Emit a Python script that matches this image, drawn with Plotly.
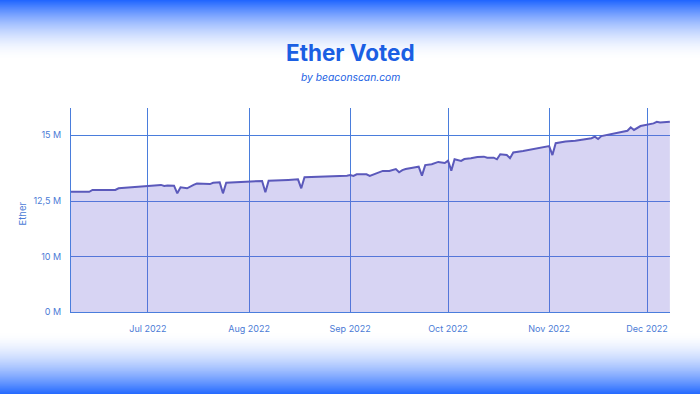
import numpy as np
import plotly.graph_objects as go

# ---------------- data ----------------
dates = [
    "2022-06-07", "2022-06-13", "2022-06-14", "2022-06-21", "2022-06-22",
    "2022-07-01", "2022-07-03", "2022-07-05", "2022-07-06", "2022-07-07",
    "2022-07-09", "2022-07-10", "2022-07-11", "2022-07-13", "2022-07-15",
    "2022-07-16", "2022-07-20", "2022-07-21", "2022-07-23", "2022-07-24",
    "2022-07-25", "2022-08-01", "2022-08-05", "2022-08-06", "2022-08-07",
    "2022-08-13", "2022-08-16", "2022-08-17", "2022-08-18", "2022-08-31",
    "2022-09-01", "2022-09-02", "2022-09-03", "2022-09-06", "2022-09-07",
    "2022-09-11", "2022-09-13", "2022-09-15", "2022-09-16", "2022-09-17",
    "2022-09-18", "2022-09-21", "2022-09-22", "2022-09-23", "2022-09-24",
    "2022-09-26", "2022-09-28", "2022-09-30", "2022-10-01", "2022-10-02",
    "2022-10-03", "2022-10-05", "2022-10-06", "2022-10-08", "2022-10-10",
    "2022-10-12", "2022-10-13", "2022-10-15", "2022-10-16", "2022-10-17",
    "2022-10-19", "2022-10-20", "2022-10-21", "2022-10-24", "2022-10-27",
    "2022-10-30", "2022-11-01", "2022-11-02", "2022-11-03", "2022-11-06",
    "2022-11-09", "2022-11-12", "2022-11-14", "2022-11-15", "2022-11-16",
    "2022-11-17", "2022-11-20", "2022-11-22", "2022-11-24", "2022-11-25",
    "2022-11-26", "2022-11-27", "2022-11-29", "2022-12-01", "2022-12-03",
    "2022-12-04", "2022-12-05", "2022-12-08",
]
ether_m = [
    12.85, 12.85, 12.92, 12.92, 12.98,
    13.07, 13.08, 13.11, 13.07, 13.09,
    13.08, 12.79, 13.02, 12.98, 13.11,
    13.16, 13.14, 13.19, 13.21, 12.79,
    13.19, 13.23, 13.26, 12.83, 13.27,
    13.30, 13.32, 12.98, 13.40, 13.46,
    13.48, 13.45, 13.51, 13.51, 13.45,
    13.64, 13.64, 13.71, 13.59, 13.67,
    13.71, 13.78, 13.80, 13.46, 13.86,
    13.89, 13.98, 13.94, 14.03, 13.65,
    14.08, 14.02, 14.09, 14.12, 14.17,
    14.18, 14.14, 14.14, 14.08, 14.27,
    14.24, 14.12, 14.34, 14.39, 14.46,
    14.52, 14.58, 14.24, 14.69, 14.75,
    14.78, 14.84, 14.88, 14.94, 14.85,
    14.96, 15.03, 15.09, 15.12, 15.16,
    15.29, 15.19, 15.34, 15.38, 15.44,
    15.50, 15.47, 15.50,
]
y_tick_values = [0, 10, 12.5, 15]
y_tick_text = ["0 M", "10 M", "12,5 M", "15 M"]
x_tick_dates = ["2022-07-01", "2022-08-01", "2022-09-01",
                "2022-10-01", "2022-11-01", "2022-12-01"]
x_tick_text = ["Jul 2022", "Aug 2022", "Sep 2022",
               "Oct 2022", "Nov 2022", "Dec 2022"]

# ---------------- style ----------------
# the original chart uses a non-linear value scale; reproduce it piecewise
SCALE_IN = [0, 10, 12.5, 15, 20]
SCALE_OUT = [0, 55.3, 111, 177, 309]


def to_axis(v):
    return np.interp(np.asarray(v, dtype=float), SCALE_IN, SCALE_OUT)


W, H = 700, 394
ML, MR, MT, MB = 71, 30, 108, 82
PLOT_H = H - MT - MB
FONT = "Inter, Roboto, 'Open Sans', sans-serif"
BLUE_TXT = "#1b5fe3"
TICK_COL = "#4b7bd6"
GRID_COL = "#4a7ddc"
LINE_COL = "#5b59bb"

fig = go.Figure()
fig.add_trace(go.Scatter(
    x=dates,
    y=to_axis(ether_m),
    customdata=ether_m,
    mode="lines",
    line=dict(color=LINE_COL, width=2),
    fill="tozeroy",
    fillcolor="rgba(112,100,212,0.28)",
    hovertemplate="%{x|%b %d, %Y}<br>%{customdata:.2f} M<extra></extra>",
    showlegend=False,
))

# gradient background bands (top and bottom)
shapes = []


def px_to_paper(p):
    return (H - MB - p) / PLOT_H


TOP_END = 60
for i in range(TOP_END):
    t = (i + 0.5) / TOP_END
    a = (1 - t) ** 1.8
    shapes.append(dict(type="rect", xref="paper", yref="paper",
                       x0=-0.2, x1=1.1, y0=px_to_paper(i + 1), y1=px_to_paper(i),
                       fillcolor=f"rgba(30,100,255,{a:.3f})",
                       line=dict(width=0), layer="below"))
BOT_START = 332
for i in range(BOT_START, H):
    t = (i + 0.5 - BOT_START) / (H - BOT_START)
    a = t ** 1.7
    shapes.append(dict(type="rect", xref="paper", yref="paper",
                       x0=-0.2, x1=1.1, y0=px_to_paper(i + 1), y1=px_to_paper(i),
                       fillcolor=f"rgba(35,105,255,{a:.3f})",
                       line=dict(width=0), layer="below"))

fig.update_layout(
    width=W, height=H,
    margin=dict(l=ML, r=MR, t=MT, b=MB, pad=0),
    paper_bgcolor="white",
    plot_bgcolor="rgba(0,0,0,0)",
    font=dict(family=FONT, color=TICK_COL, size=9),
    shapes=shapes,
    annotations=[
        dict(text="<b>Ether Voted</b>", xref="paper", yref="paper",
             x=(W / 2 - ML) / (W - ML - MR), y=px_to_paper(52),
             showarrow=False, xanchor="center", yanchor="middle",
             font=dict(size=22.5, color=BLUE_TXT, family=FONT)),
        dict(text="<i>by beaconscan.com</i>", xref="paper", yref="paper",
             x=(W / 2 - ML) / (W - ML - MR), y=px_to_paper(77),
             showarrow=False, xanchor="center", yanchor="middle",
             font=dict(size=10.3, color=BLUE_TXT, family=FONT)),
        dict(text="Ether", xref="paper", yref="paper",
             x=(21.5 - ML) / (W - ML - MR), y=px_to_paper(214),
             showarrow=False, xanchor="center", yanchor="middle",
             textangle=-90,
             font=dict(size=9.5, color=TICK_COL, family=FONT)),
    ],
    xaxis=dict(
        type="date",
        range=["2022-06-07 10:00", "2022-12-08 01:00"],
        tickvals=x_tick_dates,
        ticktext=x_tick_text,
        showgrid=True, gridcolor=GRID_COL, gridwidth=1,
        showline=True, linecolor=GRID_COL, linewidth=1,
        zeroline=False, ticks="",
        ticklabelstandoff=8,
        tickfont=dict(size=9, color=TICK_COL),
        fixedrange=True,
    ),
    yaxis=dict(
        range=[0, PLOT_H],
        tickvals=to_axis(y_tick_values),
        ticktext=y_tick_text,
        showgrid=True, gridcolor=GRID_COL, gridwidth=1,
        showline=True, linecolor=GRID_COL, linewidth=1,
        zeroline=False, ticks="",
        ticklabelstandoff=7,
        tickfont=dict(size=9, color=TICK_COL),
        fixedrange=True,
    ),
)

fig.write_html(
    "out.html",
    config={"displayModeBar": False},
    post_script="document.body.style.margin='0';document.body.style.overflow='hidden';",
)
